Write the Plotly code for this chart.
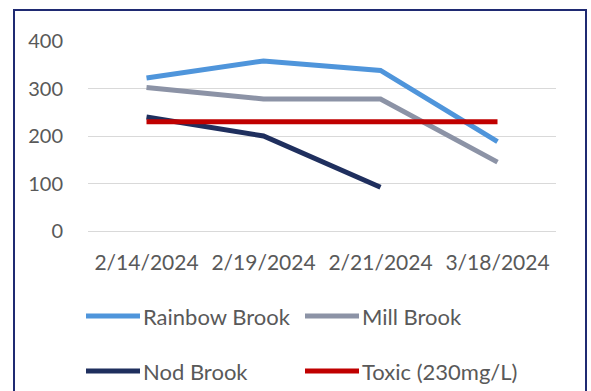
import plotly.graph_objects as go

dates = ["2/14/2024", "2/19/2024", "2/21/2024", "3/18/2024"]
rainbow = [322, 358, 338, 188]
mill = [302, 278, 278, 145]
nod = [240, 200, 92, None]
toxic = [230, 230, 230, 230]

names = ["Rainbow Brook", "Mill Brook", "Nod Brook", "Toxic (230mg/L)"]
colors = ["#4f95db", "#8c93a6", "#1f2f5e", "#c00000"]
series = [rainbow, mill, nod, toxic]
y_ticks = [0, 100, 200, 300, 400]

W, H = 591, 391
L, R, T, B = 88, 35, 41, 160
pw, ph = W - L - R, H - T - B

def px(x):
    return (x - L) / pw

def py(y):
    return (H - B - y) / ph

FONT = "Lato"
TXT = "#595959"

fig = go.Figure()
for name, col, ys in zip(names, colors, series):
    fig.add_trace(go.Scatter(x=dates, y=ys, mode="lines", name=name,
                             line=dict(color=col, width=5),
                             connectgaps=False, showlegend=False))

# manual legend
leg_pos = [(86, 316), (305, 316), (86, 371), (305, 371)]
shapes = []
annotations = []
for (lx, ly), name, col in zip(leg_pos, names, colors):
    shapes.append(dict(type="line", xref="paper", yref="paper",
                       x0=px(lx), x1=px(lx + 54), y0=py(ly), y1=py(ly),
                       line=dict(color=col, width=5)))
    annotations.append(dict(xref="paper", yref="paper", x=px(lx + 55), y=py(ly),
                            text=name, showarrow=False, xanchor="left", yanchor="middle",
                            font=dict(family=FONT, size=22, color=TXT)))

# outer frame
shapes.append(dict(type="rect", xref="paper", yref="paper",
                   x0=px(14), x1=px(586), y0=py(10), y1=py(400),
                   line=dict(color="#1f2a72", width=2), fillcolor="rgba(0,0,0,0)"))

fig.update_layout(
    width=W, height=H,
    margin=dict(l=L, r=R, t=T, b=B),
    paper_bgcolor="white", plot_bgcolor="white",
    shapes=shapes, annotations=annotations,
    font=dict(family=FONT, size=20, color=TXT),
    xaxis=dict(type="category", showgrid=False, showline=False, zeroline=False,
               ticks="", ticklabelstandoff=17, tickfont=dict(size=21, color=TXT),
               range=[-0.5, 3.5]),
    yaxis=dict(range=[0, 400], tickvals=y_ticks, showgrid=True, gridcolor="#d9d9d9",
               gridwidth=1, zeroline=True, zerolinecolor="#d9d9d9", zerolinewidth=1,
               showline=False, ticks="", ticklabelstandoff=24,
               tickfont=dict(size=20, color=TXT)),
)

fig.write_html("out.html")
